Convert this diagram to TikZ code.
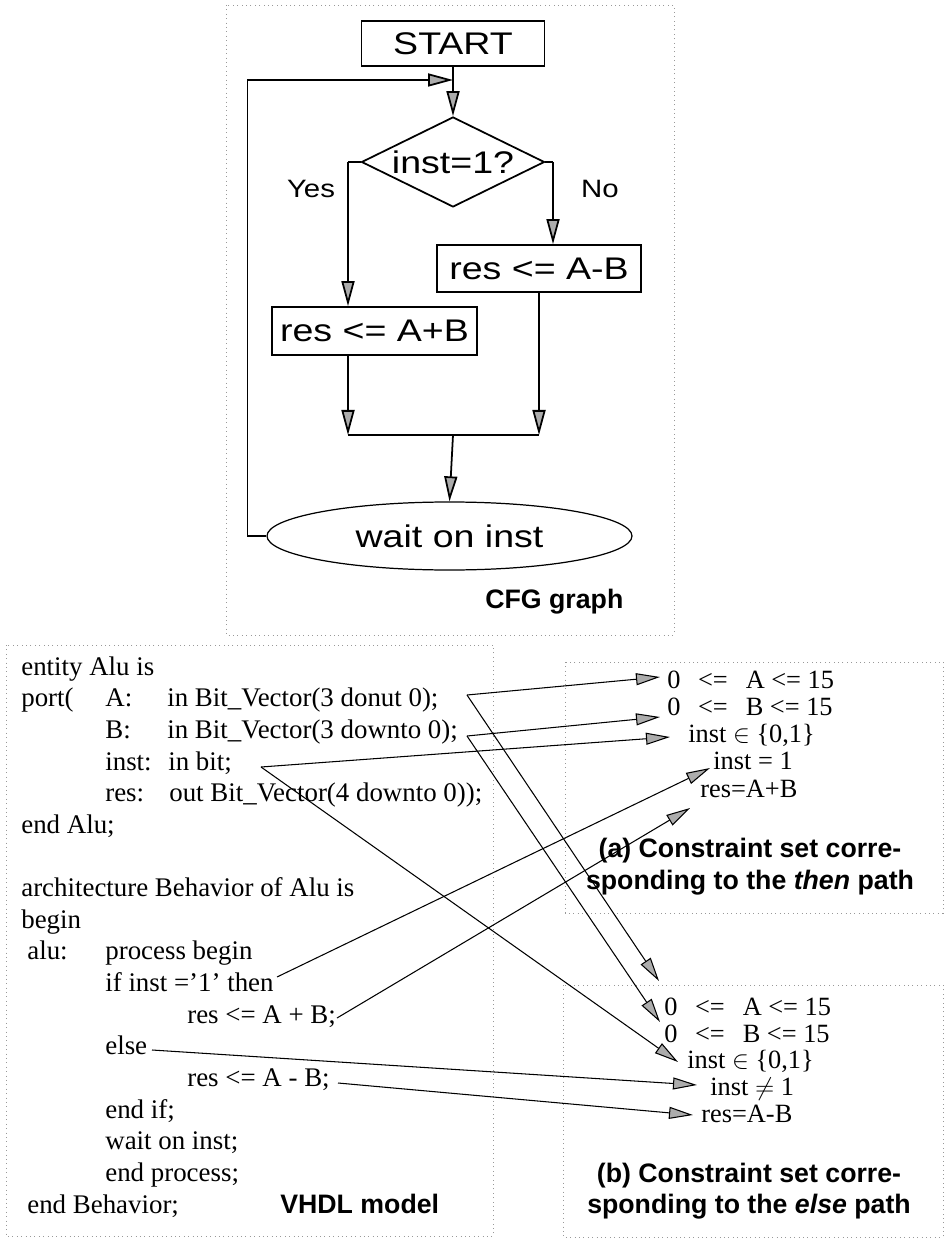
\documentclass[tikz,border=0pt]{standalone}
\usepackage{graphicx}
\usepackage{fontspec}
\setmainfont{Liberation Serif}
\setsansfont{Liberation Sans}
\usetikzlibrary{shapes.geometric,arrows.meta}

\newcommand{\cfgtxt}[1]{\scalebox{1.2}[1]{#1}}

\begin{document}
\begin{tikzpicture}[x=0.2mm,y=-0.2mm,
	frame/.style={draw=gray!80,dotted,line width=0.5pt},
	cfgnode/.style={draw,line width=1pt,inner sep=0,font=\fontsize{17.8}{20}\selectfont\sffamily},
	cfgline/.style={line width=1pt},
	flow/.style={line width=1pt,-{Triangle[length=5mm,width=2.6mm,fill=gray!65]}},
	link/.style={line width=0.6pt,-{Triangle[length=4.8mm,width=2.4mm,fill=gray!65]}},
	code/.style={anchor=base west,inner sep=0,font=\fontsize{15.3}{18}\selectfont},
	cons/.style={anchor=base west,inner sep=0,font=\fontsize{15}{18}\selectfont},
	title/.style={inner sep=0,font=\fontsize{15.2}{17.6}\selectfont\sffamily\bfseries}]
	\useasboundingbox (0,0) rectangle (946,1242);
	
	% frames
	\draw[frame] (226,5) rectangle (674,635);
	\draw[frame] (6,645) rectangle (493,1236);
	\draw[frame] (565,662) rectangle (943,913);
	\draw[frame] (563,985) rectangle (943,1237);
	
	% CFG graph
	\node[cfgnode,minimum width=36.6mm,minimum height=9mm] (start) at (453,43.5) {\cfgtxt{START}};
	\node[cfgnode,diamond,aspect=2,minimum width=36.6mm,minimum height=18mm] (cond) at (453,162) {\cfgtxt{inst=1?}};
	\node[cfgnode,minimum width=40.8mm,minimum height=9.4mm] (sub) at (539,268.5) {\cfgtxt{res <= A-B}};
	\node[cfgnode,minimum width=41mm,minimum height=9.6mm] (add) at (374.5,331) {\cfgtxt{res <= A+B}};
	\node[cfgnode,ellipse,line width=0.7pt,minimum width=73mm,minimum height=13.6mm] (wait) at (449.5,536) {\cfgtxt{wait on inst}};
	\node[anchor=base,inner sep=0,font=\fontsize{14.3}{16}\selectfont\sffamily] (yeslbl) at (311,198) {\scalebox{1.17}[1]{Yes}};
	\node[anchor=base,inner sep=0,font=\fontsize{14.3}{16}\selectfont\sffamily] (nolbl) at (600,198) {\scalebox{1.17}[1]{No}};
	\node[title,anchor=base west] (cfgtitle) at (485,608) {CFG graph};
	
	\coordinate (merge) at (453,80);
	\coordinate (yes) at (348,162);
	\coordinate (no) at (553,162);
	\coordinate (join) at (453,435);
	
	\draw[cfgline] (start.south) -- (merge);
	\draw[flow] (merge) -- (cond.north);
	\draw[cfgline] (cond.west) -- (yes);
	\draw[flow] (yes) -- (yes |- add.north);
	\draw[cfgline] (cond.east) -- (no);
	\draw[flow] (no) -- (no |- sub.north);
	\draw[flow] (yes |- add.south) -- (yes |- join);
	\draw[flow] (sub.south) -- (sub.south |- join);
	\draw[cfgline] (yes |- join) -- (sub.south |- join);
	\draw[flow] (join) -- (wait.north);
	\draw[flow] (wait.west) -- ++(-19,0) |- (merge);
	
	% VHDL model
	\node[code] (ent) at (21,675) {entity Alu is};
	\node[code] (prt) at (21,706.6) {port(};
	\node[code] (pa) at (105,706.6) {A:};
	\node[code] (pav) at (167,706.6) {in Bit\_Vector(3 donut 0);};
	\node[code] (pb) at (105,738.3) {B:};
	\node[code] (pbv) at (167,738.3) {in Bit\_Vector(3 downto 0);};
	\node[code] (pi) at (105,770) {inst:};
	\node[code] (piv) at (168,770) {in bit;};
	\node[code] (pr) at (105,801.6) {res:};
	\node[code] (prv) at (169,801.6) {out Bit\_Vector(4 downto 0));};
	\node[code] (endent) at (21,833.3) {end Alu;};
	\node[code] (arch) at (21,896.6) {architecture Behavior of Alu is};
	\node[code] (beg) at (21,928.2) {begin};
	\node[code] (alu) at (27,959.9) {alu:};
	\node[code] (proc) at (105,959.9) {process begin};
	\node[code] (ifl) at (105,991.5) {if inst ='1' then};
	\node[code] (addl) at (187,1023.2) {res <= A + B;};
	\node[code] (elsel) at (105,1054.8) {else};
	\node[code] (subl) at (187,1086.5) {res <= A - B;};
	\node[code] (endif) at (105,1118.1) {end if;};
	\node[code] (waitl) at (105,1149.8) {wait on inst;};
	\node[code] (endproc) at (105,1181.4) {end process;};
	\node[code] (endarch) at (27,1213) {end Behavior;};
	\node[title,anchor=base west] (vhdltitle) at (280,1213) {VHDL model};
	
	% constraint set (a)
	\node[cons] (a1) at (667,688) {0\hspace{3.5mm}<=\hspace{3.6mm}A <= 15};
	\node[cons] (a2) at (667,715) {0\hspace{3.5mm}<=\hspace{3.6mm}B <= 15};
	\node[cons] (a3) at (688,742) {inst $\in$ \{0,1\}};
	\node[cons] (a4) at (713,769) {inst = 1};
	\node[cons] (a5) at (700,797) {res=A+B};
	\node[title,anchor=base] (athead) at (750,857) {(a) Constraint set corre-};
	\node[title,anchor=base] (atail) at (750,889) {sponding to the \textit{then} path};
	
	% constraint set (b)
	\node[cons] (b1) at (664,1015) {0\hspace{3.5mm}<=\hspace{3.6mm}A <= 15};
	\node[cons] (b2) at (664,1042) {0\hspace{3.5mm}<=\hspace{3.6mm}B <= 15};
	\node[cons] (b3) at (687,1068) {inst $\in$ \{0,1\}};
	\node[cons] (b4) at (710,1095) {inst $\neq$ 1};
	\node[cons] (b5) at (701,1122) {res=A-B};
	\node[title,anchor=base] (bthead) at (749,1182) {(b) Constraint set corre-};
	\node[title,anchor=base] (btail) at (749,1213) {sponding to the \textit{else} path};
	
	% links from the code to the constraints
	\coordinate (fromA) at (467,695);
	\coordinate (fromB) at (467,736);
	\coordinate (frominst) at (261,767);
	\coordinate (fromif) at (277,977);
	\coordinate (fromadd) at (337,1018);
	\coordinate (fromelse) at (152,1050);
	\coordinate (fromsub) at (338,1083);
	\coordinate (toa1) at (660,677);
	\coordinate (toa2) at (660,717);
	\coordinate (toa3) at (670,737);
	\coordinate (toa4) at (710,768);
	\coordinate (toa5) at (690,808);
	\coordinate (tob1) at (659,981);
	\coordinate (tob2) at (660,1022);
	\coordinate (tob3) at (678,1062);
	\coordinate (tob4) at (697,1085);
	\coordinate (tob5) at (693,1115);
	
	\draw[link] (fromA) -- (toa1);
	\draw[link] (fromA) -- (tob1);
	\draw[link] (fromB) -- (toa2);
	\draw[link] (fromB) -- (tob2);
	\draw[link] (frominst) -- (toa3);
	\draw[link] (frominst) -- (tob3);
	\draw[link] (fromif) -- (toa4);
	\draw[link] (fromadd) -- (toa5);
	\draw[link] (fromelse) -- (tob4);
	\draw[link] (fromsub) -- (tob5);
\end{tikzpicture}
\end{document}
